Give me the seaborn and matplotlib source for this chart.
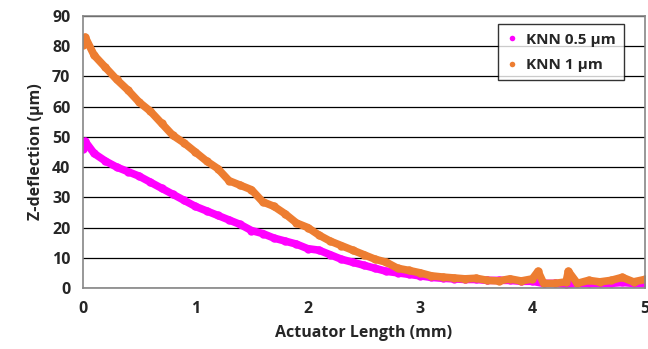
import numpy as np
import pandas as pd
import matplotlib
matplotlib.use("Agg")
import matplotlib.pyplot as plt
from matplotlib.lines import Line2D
import seaborn as sns

# values (actuator length in mm, deflection in um)
x_1um = [0.0, 0.02, 0.1, 0.2, 0.3, 0.4, 0.5, 0.6, 0.7, 0.8, 0.9, 1.0, 1.1, 1.2, 1.3, 1.4,
         1.5, 1.6, 1.7, 1.8, 1.9, 2.0, 2.1, 2.2, 2.3, 2.4, 2.5, 2.6, 2.7, 2.8, 2.9, 3.0,
         3.1, 3.2, 3.3, 3.4, 3.5, 3.6, 3.7, 3.8, 3.9, 4.0, 4.05, 4.1, 4.2, 4.3, 4.32,
         4.4, 4.5, 4.6, 4.7, 4.8, 4.9, 5.0]
y_1um = [80.5, 83.0, 77.0, 73.0, 69.0, 65.5, 61.5, 58.5, 54.5, 50.5, 48.0, 45.0, 42.0,
         39.5, 35.5, 34.0, 32.5, 28.5, 27.0, 24.5, 21.5, 20.0, 17.5, 15.5, 14.0, 12.5,
         11.0, 9.5, 8.5, 6.5, 5.8, 5.0, 4.0, 3.6, 3.3, 3.0, 3.2, 2.5, 2.3, 3.0, 2.3, 3.0,
         5.5, 1.5, 1.5, 2.0, 5.5, 1.5, 2.5, 2.0, 2.5, 3.5, 2.0, 2.8]

x_05um = [0.0, 0.02, 0.1, 0.2, 0.3, 0.4, 0.5, 0.6, 0.7, 0.8, 0.9, 1.0, 1.1, 1.2, 1.3,
          1.4, 1.5, 1.6, 1.7, 1.8, 1.9, 2.0, 2.1, 2.2, 2.3, 2.4, 2.5, 2.6, 2.7, 2.8, 2.9,
          3.0, 3.1, 3.2, 3.3, 3.4, 3.5, 3.6, 3.7, 3.8, 3.9, 4.0, 4.1, 4.2, 4.3, 4.4, 4.5,
          4.6, 4.7, 4.8, 4.9, 5.0]
y_05um = [46.0, 48.5, 44.5, 42.0, 40.0, 38.5, 37.0, 35.0, 33.0, 31.0, 29.0, 27.0, 25.5,
          24.0, 22.5, 21.0, 19.0, 18.0, 16.5, 15.5, 14.5, 13.0, 12.5, 11.0, 9.5, 8.5, 7.5,
          6.5, 5.5, 5.0, 4.5, 4.0, 3.5, 3.2, 3.0, 2.8, 2.8, 2.5, 2.5, 2.5, 2.2, 2.2, 1.5,
          1.5, 1.2, 1.5, 1.5, 1.5, 1.5, 1.8, 1.5, 1.5]

labels = ["KNN 0.5 \u00b5m", "KNN 1 \u00b5m"]
colors = ["#FF00FF", "#ED7D31"]

df = pd.concat([
    pd.DataFrame({"x": x_05um, "y": y_05um, "series": labels[0]}),
    pd.DataFrame({"x": x_1um, "y": y_1um, "series": labels[1]}),
])

sns.set_style("white")
plt.rcParams["font.family"] = ["Open Sans", "DejaVu Sans"]
plt.rcParams["font.weight"] = "bold"

fig = plt.figure(figsize=(6.48, 3.49), dpi=100)
ax = fig.add_axes([0.128, 0.175, 0.867, 0.779])

for lab, col in zip(labels, colors):
    sub = df[df["series"] == lab]
    sns.lineplot(data=sub, x="x", y="y", color=col, linewidth=5.5, marker="o",
                 markersize=6, markeredgewidth=0, sort=False, ax=ax, legend=False,
                 solid_capstyle="round", solid_joinstyle="round")

ax.set_xlim(0, 5)
ax.set_ylim(0, 90)
ax.set_xticks(range(0, 6))
ax.set_yticks(range(0, 91, 10))
ax.yaxis.grid(True, color="black", linewidth=0.9)
ax.set_axisbelow(True)
for s in ax.spines.values():
    s.set_color("#868686")
    s.set_linewidth(1.2)
ax.tick_params(axis="x", direction="inout", length=9, width=1.2, color="#868686",
               labelsize=11.5, pad=5)
ax.tick_params(axis="y", length=0, labelsize=11.5, pad=9)
for t in ax.get_xticklabels() + ax.get_yticklabels():
    t.set_fontweight("bold")

ax.set_xlabel("Actuator Length (mm)", fontsize=11.5, fontweight="bold", labelpad=6)
ax.set_ylabel("Z-deflection (\u00b5m)", fontsize=11.5, fontweight="bold", labelpad=6)

handles = [Line2D([], [], linestyle="none", marker="o", markersize=4,
                  markerfacecolor=c, markeredgewidth=0) for c in colors]
leg = ax.legend(handles, labels, loc="upper right", bbox_to_anchor=(0.963, 0.97),
                borderaxespad=0, frameon=True, fancybox=False, edgecolor="black",
                handlelength=0.8, handletextpad=0.5, borderpad=0.55, labelspacing=0.75,
                prop={"size": 11, "weight": "bold"})
leg.get_frame().set_linewidth(1.0)

fig.savefig("out.png", dpi=100)
